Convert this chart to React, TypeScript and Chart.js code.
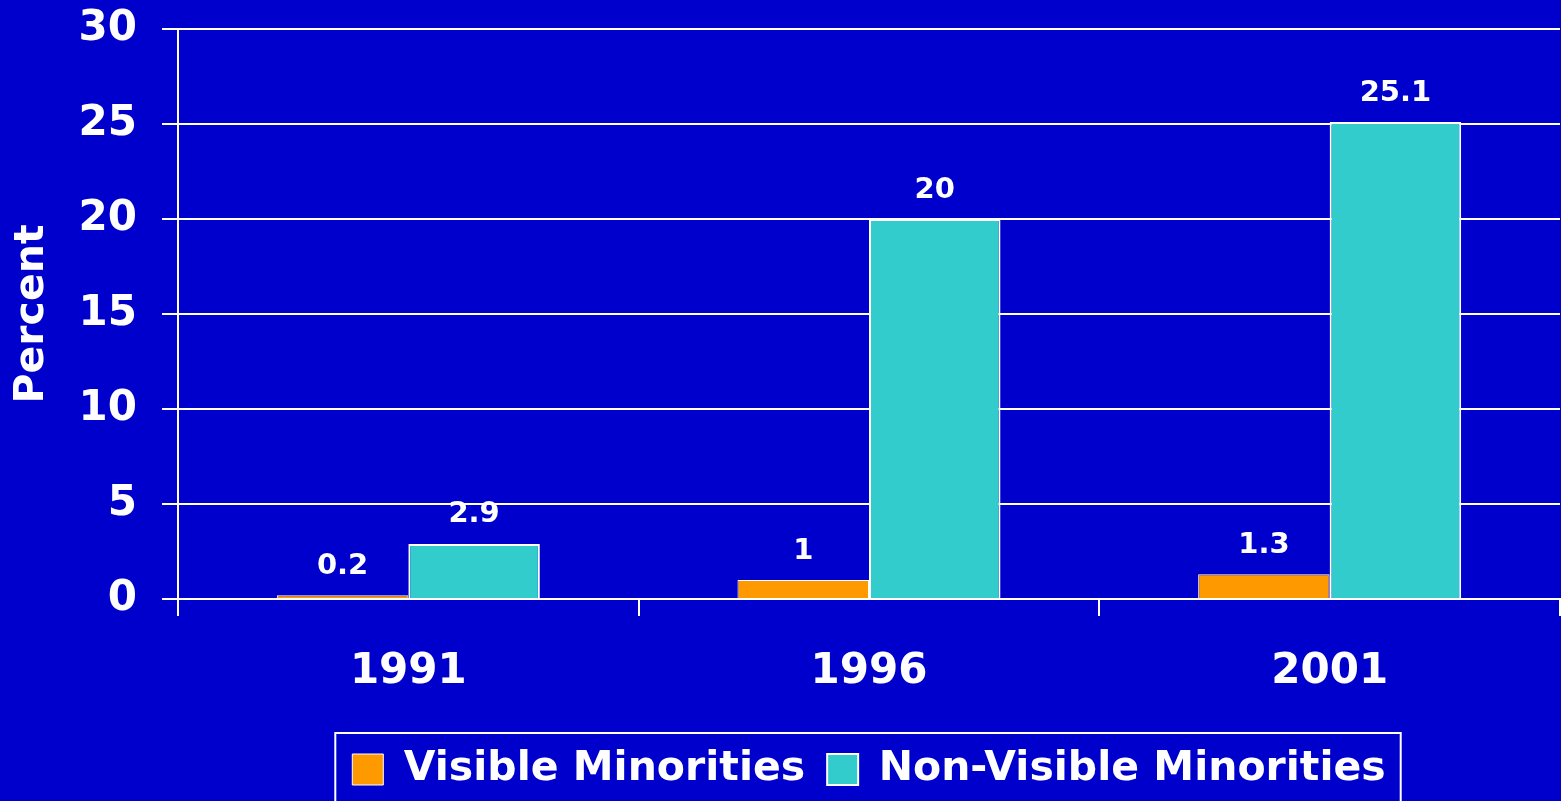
import React, { useEffect, useRef } from "react";
import { Chart, registerables } from "chart.js";

Chart.register(...registerables);

const categories = ["1991", "1996", "2001"];
const visibleMinorities = [0.2, 1, 1.3];
const nonVisibleMinorities = [2.9, 20, 25.1];
const seriesNames = ["Visible Minorities", "Non-Visible Minorities"];
const yTicks = [0, 5, 10, 15, 20, 25, 30];

const BG = "#0000CC";
const FONT = "'DejaVu Sans', Verdana, sans-serif";

const bgPlugin = {
  id: "bgFill",
  beforeDraw(chart: any) {
    const { ctx, width, height } = chart;
    ctx.save();
    ctx.fillStyle = BG;
    ctx.fillRect(0, 0, width, height);
    ctx.restore();
  },
};

const valueLabels = {
  id: "valueLabels",
  afterDatasetsDraw(chart: any) {
    const { ctx } = chart;
    ctx.save();
    ctx.fillStyle = "#FFFFFF";
    ctx.font = `bold 29px ${FONT}`;
    ctx.textAlign = "center";
    ctx.textBaseline = "middle";
    chart.data.datasets.forEach((ds: any, i: number) => {
      const meta = chart.getDatasetMeta(i);
      meta.data.forEach((bar: any, j: number) => {
        ctx.fillText(String(ds.data[j]), bar.x, bar.y - 29);
      });
    });
    ctx.restore();
  },
};

const legendBorder = {
  id: "legendBorder",
  afterDraw(chart: any) {
    const lg = chart.legend;
    if (!lg || !lg.legendHitBoxes || !lg.legendHitBoxes.length) return;
    const hb = lg.legendHitBoxes;
    const left = Math.min(...hb.map((h: any) => h.left)) - 17;
    const right = Math.max(...hb.map((h: any) => h.left + h.width)) + 15;
    const top = 733;
    const { ctx, height } = chart;
    ctx.save();
    ctx.strokeStyle = "#FFFFFF";
    ctx.lineWidth = 2;
    ctx.strokeRect(left, top, right - left, height + 20 - top);
    ctx.restore();
  },
};

export default function App() {
  const ref = useRef<HTMLCanvasElement>(null);

  useEffect(() => {
    document.body.style.margin = "0";
    const canvas = ref.current;
    if (!canvas) return;
    const chart = new Chart(canvas, {
      type: "bar",
      data: {
        labels: categories,
        datasets: [
          {
            label: seriesNames[0],
            data: visibleMinorities,
            backgroundColor: "#FF9900",
            borderColor: "#FFFFFF",
            borderWidth: 1,
            categoryPercentage: 0.571,
            barPercentage: 1,
          },
          {
            label: seriesNames[1],
            data: nonVisibleMinorities,
            backgroundColor: "#33CCCC",
            borderColor: "#FFFFFF",
            borderWidth: 2,
            categoryPercentage: 0.571,
            barPercentage: 1,
          },
        ],
      },
      options: {
        responsive: false,
        animation: false,
        layout: { padding: { top: 29, right: 1, bottom: 1, left: 0 } },
        plugins: {
          tooltip: { enabled: false },
          legend: {
            position: "bottom",
            fullSize: false,
            labels: {
              color: "#FFFFFF",
              font: { family: FONT, size: 41, weight: "bold" },
              boxWidth: 31,
              boxHeight: 31,
              padding: 22,
            },
          },
        },
        scales: {
          x: {
            grid: {
              display: true,
              drawOnChartArea: false,
              drawTicks: true,
              tickLength: 17,
              color: "#FFFFFF",
              lineWidth: 2,
              offset: true,
            },
            border: { display: true, color: "#FFFFFF", width: 2 },
            ticks: {
              color: "#FFFFFF",
              font: { family: FONT, size: 42, weight: "bold" },
              padding: 31,
            },
            afterFit(scale: any) {
              scale.height = 128;
            },
          },
          y: {
            min: 0,
            max: 30,
            afterBuildTicks(scale: any) {
              scale.ticks = yTicks.map((v) => ({ value: v }));
            },
            grid: {
              color: "#FFFFFF",
              lineWidth: 2,
              tickLength: 16,
            },
            border: { display: true, color: "#FFFFFF", width: 2 },
            ticks: {
              color: "#FFFFFF",
              font: { family: FONT, size: 42, weight: "bold" },
              padding: 25,
            },
            title: {
              display: true,
              text: "Percent",
              color: "#FFFFFF",
              font: { family: FONT, size: 41, weight: "bold" },
              padding: { top: 8, bottom: 0 },
            },
            afterFit(scale: any) {
              scale.width = 178;
              scale.paddingTop = 0;
              scale.paddingBottom = 0;
            },
          },
        },
      },
      plugins: [bgPlugin, valueLabels, legendBorder],
    });
    return () => chart.destroy();
  }, []);

  return (
    <div style={{ width: 1561, height: 801 }}>
      <canvas ref={ref} width={1561} height={801} style={{ display: "block" }} />
    </div>
  );
}
